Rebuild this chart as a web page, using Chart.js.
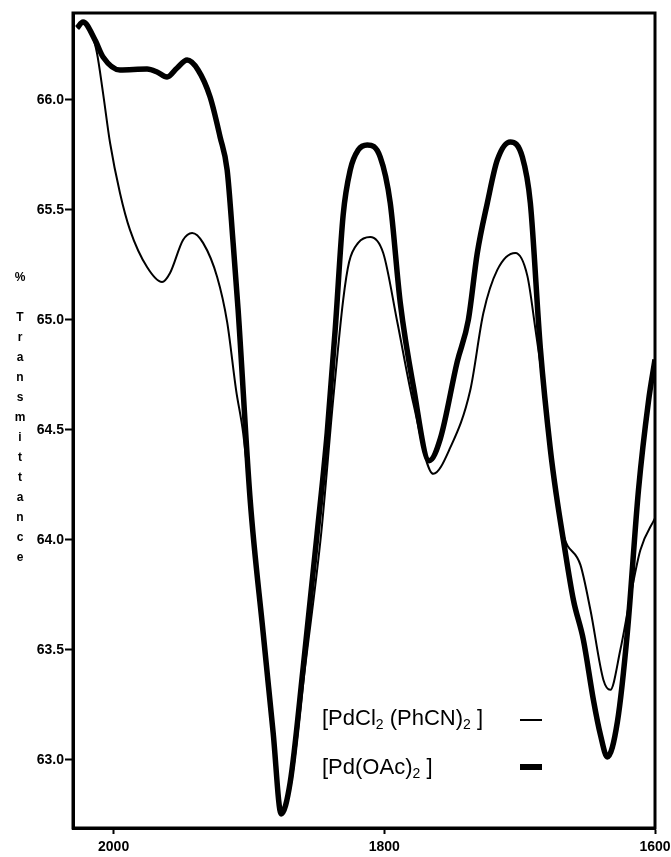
<!DOCTYPE html>
<html>
<head>
<meta charset="utf-8">
<script src="https://cdn.jsdelivr.net/npm/chart.js@4/dist/chart.umd.min.js"></script>
<style>
  html, body { margin: 0; padding: 0; background: #fff; }
  #wrap { position: relative; width: 671px; height: 857px; }
  #ytitle { position: absolute; left: 12px; top: 267px; width: 16px; text-align: center;
    font: bold 12px "Liberation Sans", Arial, sans-serif; line-height: 20px; color: #000; }
  .leg { position: absolute; font: 22px "Liberation Sans", Arial, sans-serif; color: #000; white-space: nowrap; }
  .leg sub { font-size: 14px; vertical-align: -4px; }
  .mk { position: absolute; background: #000; }
</style>
</head>
<body>
<div id="wrap">
  <canvas id="c" width="671" height="857"></canvas>
  <div id="ytitle"></div>
  <div class="leg" style="left:322px; top:705px;">[PdCl<sub>2</sub> (PhCN)<sub>2</sub> ]</div>
  <div class="mk" style="left:520px; top:719px; width:22px; height:2px;"></div>
  <div class="leg" style="left:322px; top:754px;">[Pd(OAc)<sub>2</sub> ]</div>
  <div class="mk" style="left:520px; top:764px; width:22px; height:6px;"></div>
</div>
<script>
// ---- data (wavenumber, cm-1 ; % transmittance) ----
const yTitleText = "% Transmittance";
const xTickValues = [2000, 1800, 1600];
const yTickValues = [63.0, 63.5, 64.0, 64.5, 65.0, 65.5, 66.0];

const pdclX = [2027, 2022.6, 2016, 2012.3, 2007.8, 2002.6, 1995.3, 1987.9, 1975.3, 1964.2, 1958.3, 1948.7, 1942, 1933.9, 1923.5, 1916.1, 1909.5, 1904.3, 1899.1, 1889.5, 1882.1, 1876.2, 1868.8, 1858.5, 1846.6, 1837.8, 1830.4, 1826, 1819.3, 1810.4, 1800.8, 1790.4, 1778.6, 1763.8, 1751.2, 1736.5, 1726.8, 1716.5, 1703.2, 1694.3, 1688.4, 1682.5, 1675.1, 1667.7, 1655.1, 1647.7, 1638.1, 1633, 1625.6, 1618.2, 1610.8, 1600];
const pdclY = [66.327, 66.354, 66.295, 66.213, 66.031, 65.804, 65.577, 65.409, 65.24, 65.172, 65.213, 65.363, 65.395, 65.35, 65.195, 64.99, 64.681, 64.486, 64.181, 63.577, 63.122, 62.754, 62.895, 63.422, 64.031, 64.636, 65.09, 65.263, 65.35, 65.377, 65.304, 64.99, 64.622, 64.30, 64.42, 64.68, 65.031, 65.227, 65.304, 65.20, 64.96, 64.695, 64.272, 64.022, 63.886, 63.681, 63.363, 63.318, 63.5, 63.74, 63.954, 64.099];

const pdoacX = [2027, 2022.6, 2013.7, 2007.8, 1995.3, 1975.3, 1967.9, 1960.5, 1953.1, 1945.7, 1937.6, 1928.7, 1921.3, 1916.1, 1911.7, 1908, 1899.1, 1889.5, 1882.1, 1876.2, 1869.6, 1859.9, 1849.6, 1842.2, 1836.3, 1830.4, 1825.2, 1819.3, 1812.6, 1803, 1795.6, 1788.2, 1778.6, 1766.8, 1758.6, 1746.1, 1737.9, 1731.3, 1723.9, 1716.5, 1706.9, 1698, 1692.1, 1684.7, 1677.3, 1672.9, 1667.7, 1660.3, 1652.9, 1645.5, 1640.3, 1635.2, 1627.8, 1620.4, 1612.2, 1604.8, 1600];
const pdoacY = [66.327, 66.354, 66.272, 66.195, 66.136, 66.14, 66.127, 66.104, 66.145, 66.181, 66.136, 66.013, 65.831, 65.681, 65.35, 65.045, 64.181, 63.577, 63.122, 62.754, 62.895, 63.422, 64.031, 64.486, 64.954, 65.477, 65.681, 65.772, 65.795, 65.74, 65.531, 65.077, 64.70, 64.36, 64.46, 64.81, 65.0, 65.304, 65.531, 65.727, 65.809, 65.74, 65.531, 64.87, 64.41, 64.204, 63.999, 63.727, 63.545, 63.272, 63.113, 63.013, 63.172, 63.581, 64.227, 64.631, 64.82];

const xMin = 1600, xMax = 2030, yMin = 62.69, yMax = 66.395;

// y title as stacked upright letters
const yt = document.getElementById('ytitle');
yTitleText.split('').forEach(ch => {
  const d = document.createElement('div');
  d.textContent = ch === ' ' ? '\u00a0' : ch;
  yt.appendChild(d);
});

const toPts = (xs, ys) => xs.map((x, i) => ({ x: x, y: ys[i] }));

const boxPlugin = {
  id: 'box',
  afterDraw(chart) {
    const a = chart.chartArea, ctx = chart.ctx;
    ctx.save();
    ctx.strokeStyle = '#000';
    ctx.lineWidth = 3;
    ctx.strokeRect(a.left, a.top, a.right - a.left, a.bottom - a.top);
    ctx.restore();
  }
};

new Chart(document.getElementById('c'), {
  type: 'line',
  data: {
    datasets: [
      { label: '[PdCl2(PhCN)2]', data: toPts(pdclX, pdclY), borderColor: '#000', borderWidth: 2,
        pointRadius: 0, cubicInterpolationMode: 'monotone', fill: false },
      { label: '[Pd(OAc)2]', data: toPts(pdoacX, pdoacY), borderColor: '#000', borderWidth: 5.5,
        pointRadius: 0, cubicInterpolationMode: 'monotone', fill: false }
    ]
  },
  options: {
    responsive: false,
    animation: false,
    layout: { padding: { top: 13, right: 16, left: 0, bottom: 0 } },
    plugins: { legend: { display: false }, tooltip: { enabled: false } },
    scales: {
      x: {
        type: 'linear', reverse: true, min: xMin, max: xMax,
        afterBuildTicks: s => { s.ticks = xTickValues.map(v => ({ value: v })); },
        afterFit: s => { s.height = 29; s.paddingLeft = 0; s.paddingRight = 0; },
        grid: { drawOnChartArea: false, drawTicks: true, tickLength: 6, tickWidth: 2, tickColor: '#000' },
        border: { display: true, color: '#000', width: 3 },
        ticks: { color: '#000', padding: 5, maxRotation: 0, autoSkip: false,
          font: { family: 'Liberation Sans', size: 14, weight: 'bold' },
          callback: v => String(v) }
      },
      y: {
        type: 'linear', min: yMin, max: yMax,
        afterBuildTicks: s => { s.ticks = yTickValues.map(v => ({ value: v })); },
        afterFit: s => { s.width = 73; s.paddingTop = 0; s.paddingBottom = 0; },
        grid: { drawOnChartArea: false, drawTicks: true, tickLength: 8, tickWidth: 2, tickColor: '#000' },
        border: { display: true, color: '#000', width: 3 },
        ticks: { color: '#000', padding: 1, autoSkip: false,
          font: { family: 'Liberation Sans', size: 14, weight: 'bold' },
          callback: v => Number(v).toFixed(1) }
      }
    }
  },
  plugins: [boxPlugin]
});
</script>
</body>
</html>
